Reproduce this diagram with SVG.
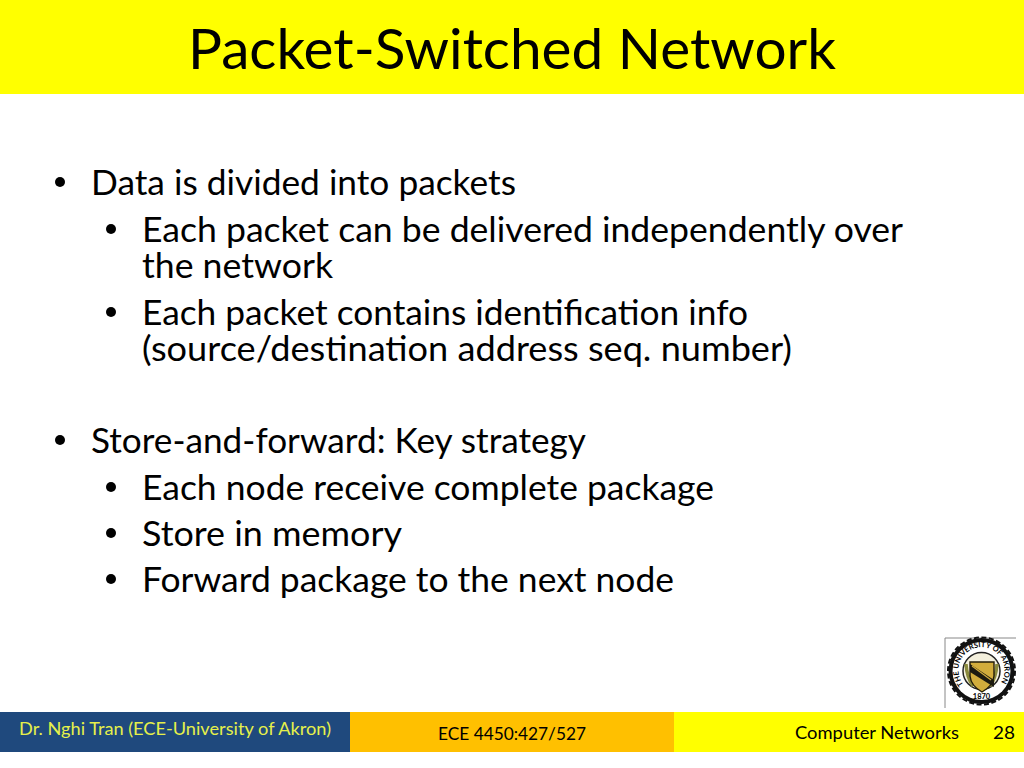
<svg xmlns="http://www.w3.org/2000/svg" width="1024" height="768" viewBox="0 0 1024 768">
<style>
text{font-family:"Lato","Carlito","Open Sans",sans-serif;fill:#000}
.b{font-size:35px}
.d{fill:#000}
.f{font-size:17.5px}
.s{font-size:7.5px;font-weight:700}
</style>
<defs>
<path id="arcTop" d="M963.5 684.5A23 23 0 1 1 999.5 684.5"/>
</defs>
<rect width="1024" height="768" fill="#fff"/>
<rect id="title-bar" width="1024" height="94" fill="#ffff00"/>
<text x="188" y="69" font-size="56" textLength="648" lengthAdjust="spacingAndGlyphs">Packet-Switched Network</text>
<g id="body">
<circle class="d" cx="60" cy="182" r="5"/>
<text class="b" x="91" y="195" textLength="425" lengthAdjust="spacingAndGlyphs">Data is divided into packets</text>
<circle class="d" cx="111" cy="229" r="5"/>
<text class="b" x="142" y="242" textLength="761" lengthAdjust="spacingAndGlyphs">Each packet can be delivered independently over</text>
<text class="b" x="142" y="278" textLength="191" lengthAdjust="spacingAndGlyphs">the network</text>
<circle class="d" cx="111" cy="312" r="5"/>
<text class="b" x="142" y="325" textLength="606" lengthAdjust="spacingAndGlyphs">Each packet contains identification info</text>
<text class="b" x="142" y="361" textLength="650" lengthAdjust="spacingAndGlyphs">(source/destination address seq. number)</text>
<circle class="d" cx="60" cy="440" r="5"/>
<text class="b" x="91" y="453" textLength="495" lengthAdjust="spacingAndGlyphs">Store-and-forward: Key strategy</text>
<circle class="d" cx="111" cy="487" r="5"/>
<text class="b" x="142" y="500" textLength="572" lengthAdjust="spacingAndGlyphs">Each node receive complete package</text>
<circle class="d" cx="111" cy="533" r="5"/>
<text class="b" x="142" y="546" textLength="260" lengthAdjust="spacingAndGlyphs">Store in memory</text>
<circle class="d" cx="111" cy="579" r="5"/>
<text class="b" x="142" y="592" textLength="532" lengthAdjust="spacingAndGlyphs">Forward package to the next node</text>
</g>
<g id="footer">
<rect x="0" y="712" width="350" height="40" fill="#1f497d"/>
<rect x="350" y="712" width="324" height="40" fill="#ffc000"/>
<rect x="674" y="712" width="350" height="40" fill="#ffff00"/>
<text class="f" x="19" y="735" style="fill:#e6f04a" textLength="312" lengthAdjust="spacingAndGlyphs">Dr. Nghi Tran (ECE-University of Akron)</text>
<text class="f" x="438" y="740" textLength="148" lengthAdjust="spacingAndGlyphs">ECE 4450:427/527</text>
<text class="f" x="795" y="739" textLength="164" lengthAdjust="spacingAndGlyphs">Computer Networks</text>
<text class="f" x="993" y="739" textLength="22" lengthAdjust="spacingAndGlyphs">28</text>
</g>
<g id="seal">
<path d="M945 708V638H1016" fill="none" stroke="#888" stroke-width="1"/>
<circle cx="981.5" cy="671" r="33" fill="#111"/>
<circle cx="981.5" cy="671" r="33.5" fill="none" stroke="#111" stroke-width="2" stroke-dasharray="5 2.5"/>
<circle cx="981.5" cy="671" r="29" fill="#fff"/>
<circle cx="981.5" cy="671" r="18.5" fill="#f3efdc" stroke="#222" stroke-width="1.5"/>
<path d="M966 664Q967 678 973 686M997 664Q996 678 990 686" fill="none" stroke="#8b8b3e" stroke-width="3.5"/>
<path d="M970 662H994V676Q993 686 982 692Q971 686 970 676Z" fill="#d2ad3c" stroke="#221c08" stroke-width="1.4"/>
<path d="M970 664L994 680V687L970 672Z" fill="#1c1a10"/>
<path d="M972 666L991 680" stroke="#d2ad3c" stroke-width="1.2"/>
<text class="s" textLength="100" lengthAdjust="spacingAndGlyphs"><textPath href="#arcTop">THE UNIVERSITY OF AKRON</textPath></text>
<text class="s" x="981.5" y="699" text-anchor="middle">1870</text>
</g>
</svg>
